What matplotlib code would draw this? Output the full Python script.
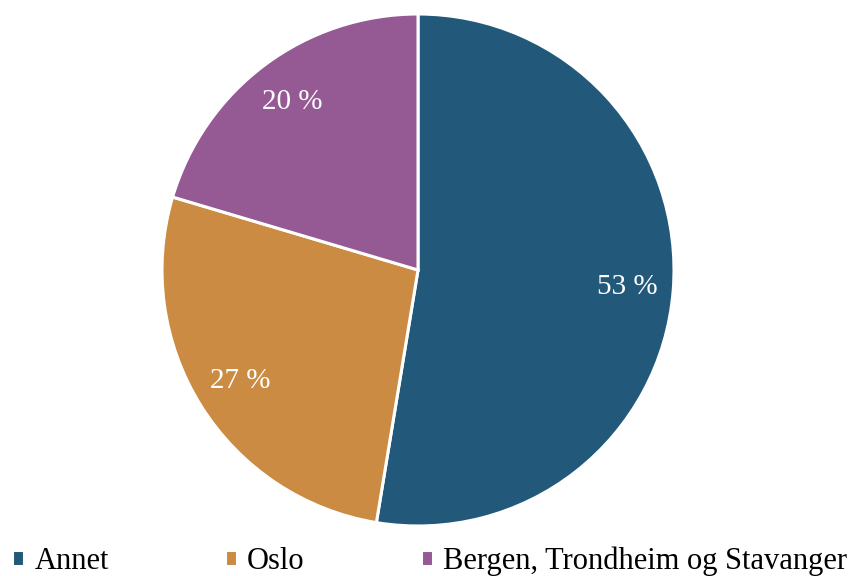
import matplotlib.pyplot as plt

labels = ["Annet", "Oslo", "Bergen, Trondheim og Stavanger"]
shares = [52.6, 27.0, 20.4]
colors = ["#22597a", "#cc8b42", "#955994"]

plt.rcParams['font.family'] = ['Liberation Serif', 'DejaVu Serif']

fig = plt.figure(figsize=(8.56, 5.76), dpi=100)
# pie: center ~ (418, 270) px, radius ~256 px
ax = fig.add_axes([162 / 856, 50 / 576, 512 / 856, 512 / 576])

wedges, texts, autotexts = ax.pie(
    shares, colors=colors, startangle=90, counterclock=False,
    autopct=lambda p: f"{p:.0f} %", pctdistance=0.82,
    wedgeprops=dict(edgecolor="white", linewidth=2.2),
    textprops=dict(color="white", fontsize=21),
)
ax.set_xlim(-1.0, 1.0)
ax.set_ylim(-1.0, 1.0)
ax.set_aspect("equal")
ax.axis("off")

fig.legend(wedges, labels, loc="lower left", bbox_to_anchor=(12 / 856, 0.0),
           ncol=3, frameon=False, fontsize=22, borderpad=0, borderaxespad=0,
           handlelength=0.4, handleheight=0.4, handletextpad=0.33,
           columnspacing=3.8)

fig.savefig("out.png", dpi=100)
